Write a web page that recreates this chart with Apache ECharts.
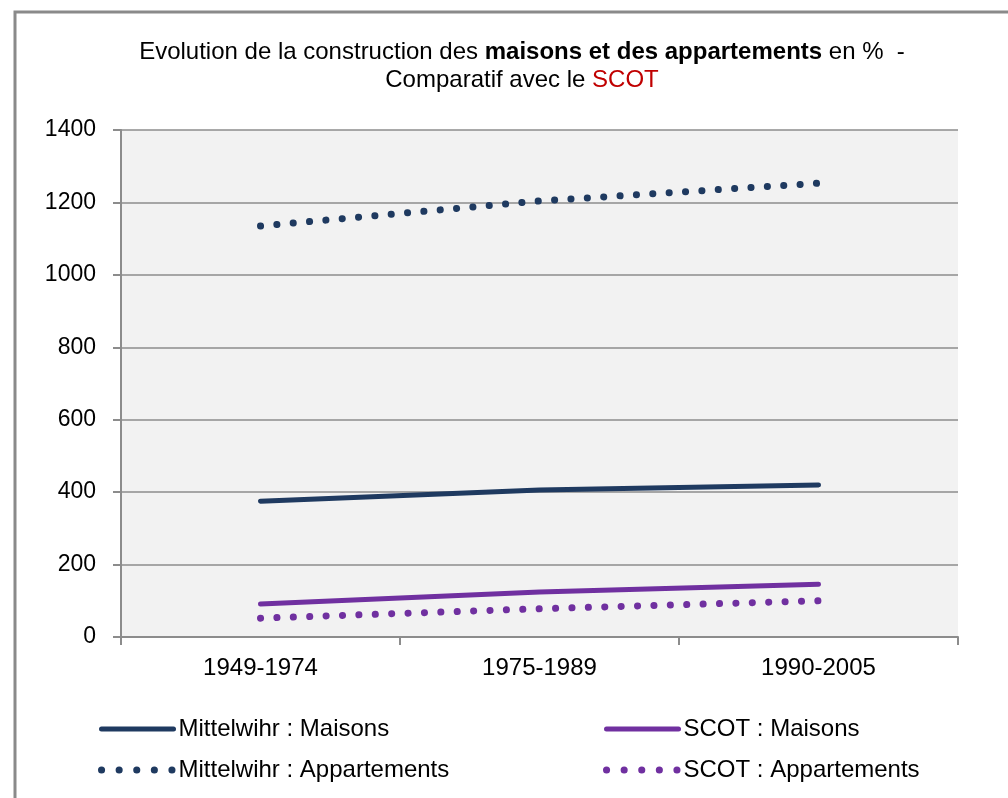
<!DOCTYPE html>
<html>
<head>
<meta charset="utf-8">
<script src="https://cdn.jsdelivr.net/npm/echarts@6/dist/echarts.min.js"></script>
<style>
  html, body { margin: 0; padding: 0; background: #fff; }
  #chart { width: 1008px; height: 798px; }
</style>
</head>
<body>
<div id="chart"></div>
<script>
// periodes
var periods = ['1949-1974', '1975-1989', '1990-2005'];
// valeurs
var mittelMaisons = [375, 406, 420];
var mittelApparts = [1135, 1204, 1253];
var scotMaisons = [91, 124, 146];
var scotApparts = [52, 78, 100];
var yTicks = [0, 1400, 200]; // min, max, pas

var navy = '#1f3a60';
var purple = '#7030a0';
var gridGray = '#8c8c8c';
var font = '"Liberation Sans", Arial, sans-serif';

var myChart = echarts.init(document.getElementById('chart'));

var dotted = function (color) {
  return { color: color, width: 7, type: [0.1, 16.3], cap: 'round' };
};
var solid = function (color) {
  return { color: color, width: 5, cap: 'round' };
};

// entrée de légende : trait seul, sans symbole
var legendItem = function (name, color, isDotted) {
  return {
    name: name,
    itemStyle: { opacity: 0, borderWidth: 0 },
    lineStyle: isDotted
      ? { color: color, width: 7, type: [0.1, 17.5], cap: 'round' }
      : { color: color, width: 5, type: 'solid', cap: 'round' }
  };
};

var option = {
  backgroundColor: '#fff',
  animation: false,
  graphic: [{
    type: 'rect',
    shape: { x: 15, y: 12, width: 1200, height: 1000 },
    style: { fill: 'none', stroke: '#8a8a8a', lineWidth: 3 },
    silent: true
  }],
  title: {
    left: 517,
    top: 33,
    textAlign: 'center',
    text: '{n|Evolution de la construction des }{b|maisons et des appartements}{n| en %  -}\n{n|Comparatif avec le }{r|SCOT}',
    textStyle: {
      fontFamily: font,
      fontSize: 24,
      fontWeight: 'normal',
      color: '#000',
      lineHeight: 28,
      rich: {
        n: { fontFamily: font, fontSize: 24, color: '#000', lineHeight: 28 },
        b: { fontFamily: font, fontSize: 24, fontWeight: 'bold', color: '#000', lineHeight: 28 },
        r: { fontFamily: font, fontSize: 24, color: '#c00000', lineHeight: 28 }
      }
    }
  },
  legend: [{
    orient: 'vertical',
    left: 98,
    top: 717,
    padding: 0,
    itemWidth: 72,
    itemHeight: 14,
    itemGap: 17,
    textStyle: { fontFamily: font, fontSize: 24, color: '#000' },
    data: [
      legendItem('Mittelwihr : Maisons', navy, false),
      legendItem('Mittelwihr : Appartements', navy, true)
    ]
  }, {
    orient: 'vertical',
    left: 603,
    top: 717,
    padding: 0,
    itemWidth: 72,
    itemHeight: 14,
    itemGap: 17,
    textStyle: { fontFamily: font, fontSize: 24, color: '#000' },
    data: [
      legendItem('SCOT : Maisons', purple, false),
      legendItem('SCOT : Appartements', purple, true)
    ]
  }],
  grid: {
    left: 121,
    right: 50,
    top: 130,
    bottom: 161,
    show: true,
    backgroundColor: '#f2f2f2',
    borderWidth: 0
  },
  xAxis: {
    type: 'category',
    data: periods,
    boundaryGap: true,
    axisLine: { lineStyle: { color: gridGray, width: 2 } },
    axisTick: { show: true, length: 8, lineStyle: { color: gridGray, width: 2 } },
    axisLabel: { margin: 19, fontFamily: font, fontSize: 24, color: '#000' },
    splitLine: { show: false }
  },
  yAxis: {
    type: 'value',
    min: yTicks[0],
    max: yTicks[1],
    interval: yTicks[2],
    axisLine: { show: true, lineStyle: { color: gridGray, width: 2 } },
    axisTick: { show: true, length: 8, lineStyle: { color: gridGray, width: 2 } },
    axisLabel: {
      margin: 25, fontFamily: font, fontSize: 23, color: '#000',
      formatter: function (v) { return String(v); }
    },
    splitLine: { show: true, lineStyle: { color: gridGray, width: 1.5 } }
  },
  series: [{
    name: 'Mittelwihr : Maisons',
    type: 'line',
    symbol: 'none',
    data: mittelMaisons,
    lineStyle: solid(navy),
    itemStyle: { color: navy }
  }, {
    name: 'Mittelwihr : Appartements',
    type: 'line',
    symbol: 'none',
    data: mittelApparts,
    lineStyle: dotted(navy),
    itemStyle: { color: navy }
  }, {
    name: 'SCOT : Maisons',
    type: 'line',
    symbol: 'none',
    data: scotMaisons,
    lineStyle: solid(purple),
    itemStyle: { color: purple }
  }, {
    name: 'SCOT : Appartements',
    type: 'line',
    symbol: 'none',
    data: scotApparts,
    lineStyle: dotted(purple),
    itemStyle: { color: purple }
  }]
};

myChart.setOption(option);
</script>
</body>
</html>
